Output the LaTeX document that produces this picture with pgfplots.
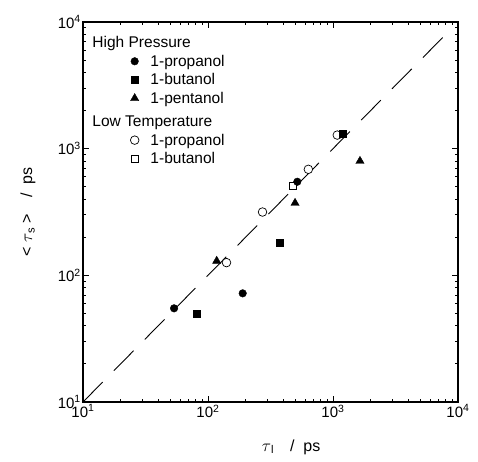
\documentclass[border=0pt]{standalone}
\usepackage{fontspec}
\setmainfont{Liberation Sans}
\usepackage{pgfplots}
\pgfplotsset{compat=1.18}
\begin{document}
\begin{tikzpicture}
\begin{axis}[
  scale only axis, width=375bp, height=380bp,
  xmode=log, ymode=log,
  xmin=10, xmax=10000, ymin=10, ymax=10000,
  tick align=inside, major tick length=6bp, minor tick length=3bp,
  axis line style={line width=1.1bp},
  every tick/.style={line width=0.8bp, black},
  xtick={10,100,1000,10000}, ytick={10,100,1000,10000},
  xticklabels={10\textsuperscript{1},10\textsuperscript{2},10\textsuperscript{3},10\textsuperscript{4}},
  yticklabels={10\textsuperscript{1},10\textsuperscript{2},10\textsuperscript{3},10\textsuperscript{4}},
  ticklabel style={font=\fontsize{15bp}{18bp}\selectfont},
  xticklabel style={inner sep=2.5bp},
  yticklabel style={inner sep=2bp},
  xlabel={$\tau_{\,\mathrm{l}}$\quad/\ \ ps},
  ylabel={<\ $\tau_{\,\mathrm{s}}$\ >\quad/\ \ ps},
  label style={font=\fontsize{16bp}{19bp}\selectfont},
  xlabel style={at={(axis description cs:0.555,0)}, anchor=center, yshift=-45bp},
  ylabel style={at={(axis description cs:-0.147,0.5)}, anchor=center},
  legend style={draw=none, fill=none, at={(axis description cs:0,1)}, anchor=north west,
    xshift=40bp, yshift=-10.7bp, font=\fontsize{15.5bp}{18bp}\selectfont,
    row sep=2.8bp, column sep=10bp, nodes={inner sep=1.5bp}},
  legend cell align=left,
]
% data, drawn in layer order
\addplot[black, line width=0.9bp, dash pattern=on 28bp off 16bp, forget plot] coordinates {(10,10) (8500,8500)};
\addplot[only marks, mark=*, mark size=4.3bp, draw=black, fill=white, line width=0.7bp, forget plot] coordinates {
  (140.6,126) (273,316) (635,687) (1082,1280)};
\addplot[only marks, mark=square, mark size=3.4bp, black, line width=0.7bp, forget plot] coordinates {
  (476,507)};
\addplot[only marks, mark=*, mark size=3.8bp, black, forget plot] coordinates {
  (53.5,54.9) (189.5,72.1) (518,548)};
\addplot[only marks, mark=square*, mark size=3.4bp, black, forget plot] coordinates {
  (81.2,49.5) (373,180) (1187,1321)};
\addplot[only marks, mark=triangle*, mark size=4.8bp, black, forget plot] coordinates {
  (117.4,129.7) (497,372) (1644,798)};
% legend
\addlegendimage{empty legend}
\addlegendentry{\hspace*{-58bp}High Pressure}
\addlegendimage{only marks, mark=*, mark size=3.8bp, black}
\addlegendentry{1-propanol}
\addlegendimage{only marks, mark=square*, mark size=3.4bp, black}
\addlegendentry{1-butanol}
\addlegendimage{only marks, mark=triangle*, mark size=4.8bp, black}
\addlegendentry{1-pentanol}
\addlegendimage{empty legend}
\addlegendentry{\hspace*{-58bp}\rule{0pt}{16bp}Low Temperature}
\addlegendimage{only marks, mark=*, mark size=4.3bp, draw=black, fill=white, line width=0.7bp}
\addlegendentry{1-propanol}
\addlegendimage{only marks, mark=square, mark size=3.4bp, black, line width=0.7bp}
\addlegendentry{1-butanol}
\end{axis}
\useasboundingbox (-83bp,-60bp) rectangle (395bp,402bp);
\end{tikzpicture}
\end{document}
